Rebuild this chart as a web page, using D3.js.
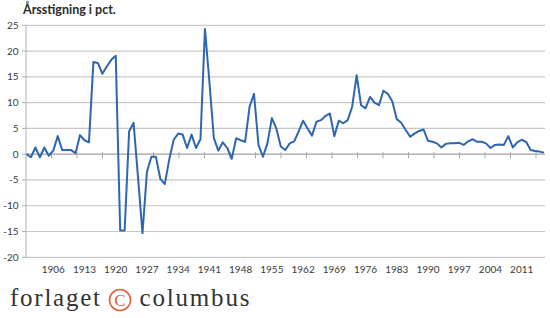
<!DOCTYPE html>
<html>
<head>
<meta charset="utf-8">
<script src="https://cdn.jsdelivr.net/npm/d3@7"></script>
<style>
  html, body { margin: 0; padding: 0; background: #fff; }
  svg { display: block; }
</style>
</head>
<body>
<svg id="chart" width="550" height="318"></svg>
<script>
// ---- data ----
const startYear = 1900;
const values = [
  0.0, -0.6, 1.3, -0.6, 1.3, -0.3, 0.7, 3.5, 0.8, 0.8,      // 1900-1909
  0.8, 0.2, 3.7, 2.7, 2.3, 17.9, 17.7, 15.6, 17.0, 18.3,    // 1910-1919
  19.1, -14.8, -14.8, 4.4, 6.1, -4.5, -15.3, -3.4, -0.5, -0.5, // 1920-1929
  -4.8, -5.8, -1.0, 2.8, 4.0, 3.8, 1.2, 3.8, 1.2, 2.9,      // 1930-1939
  24.3, 14.0, 3.1, 0.7, 2.3, 1.2, -0.9, 3.1, 2.7, 2.4,      // 1940-1949
  9.2, 11.7, 1.8, -0.5, 2.1, 7.0, 5.0, 1.5, 0.8, 2.1,       // 1950-1959
  2.5, 4.4, 6.5, 5.0, 3.6, 6.3, 6.6, 7.4, 7.9, 3.5,         // 1960-1969
  6.5, 6.0, 6.6, 9.2, 15.3, 9.5, 8.9, 11.1, 10.0, 9.5,      // 1970-1979
  12.3, 11.7, 10.2, 6.8, 6.1, 4.7, 3.4, 4.0, 4.5, 4.8,      // 1980-1989
  2.6, 2.4, 2.1, 1.3, 2.0, 2.1, 2.1, 2.2, 1.8, 2.5,         // 1990-1999
  2.9, 2.4, 2.4, 2.1, 1.2, 1.8, 1.9, 1.8, 3.5, 1.3,         // 2000-2009
  2.3, 2.8, 2.4, 0.8, 0.6, 0.5, 0.3                         // 2010-2016
];
const years = values.map((v, i) => startYear + i);
const yTicks = [-20, -15, -10, -5, 0, 5, 10, 15, 20, 25];
const xLabels = [1906, 1913, 1920, 1927, 1934, 1941, 1948, 1955, 1962, 1969, 1976, 1983, 1990, 1997, 2004, 2011];
const tickMarkCount = 20;
const tickMarkFirst = 1905.6;
const tickMarkStep = 5.716;
const title = "Årsstigning i pct.";
const brandLeft = "forlaget";
const brandRight = "columbus";

// ---- layout ----
const svg = d3.select("#chart");
const left = 26, right = 545;
const x = d3.scaleLinear().domain([years[0], years[years.length - 1]]).range([26.5, 544]);
const y = d3.scaleLinear().domain([-20, 25]).range([257.3, 25.3]);
const textColor = "#3a3a3a";

// grid lines
svg.append("g").selectAll("line")
  .data(yTicks.filter(t => t !== 0))
  .join("line")
  .attr("x1", left).attr("x2", right)
  .attr("y1", d => y(d)).attr("y2", d => y(d))
  .attr("stroke", "#c8c8c8").attr("stroke-width", 1.2);

// y axis line
svg.append("line")
  .attr("x1", left).attr("x2", left)
  .attr("y1", y(25)).attr("y2", y(-20))
  .attr("stroke", "#b0b0b0").attr("stroke-width", 1);

// y tick marks
svg.append("g").selectAll("line")
  .data(yTicks)
  .join("line")
  .attr("x1", left - 4).attr("x2", left)
  .attr("y1", d => y(d)).attr("y2", d => y(d))
  .attr("stroke", "#b0b0b0").attr("stroke-width", 1);

// y labels
svg.append("g").selectAll("text")
  .data(yTicks)
  .join("text")
  .attr("x", 18.5)
  .attr("y", d => y(d))
  .attr("dy", "0.35em")
  .attr("text-anchor", "end")
  .attr("font-family", "Lato, 'Open Sans', sans-serif")
  .attr("font-size", 10)
  .attr("fill", textColor)
  .text(d => d);

// zero axis
svg.append("line")
  .attr("x1", left).attr("x2", right)
  .attr("y1", y(0)).attr("y2", y(0))
  .attr("stroke", "#a0a0a0").attr("stroke-width", 1.3);

// x tick marks
const tickYears = d3.range(tickMarkCount).map(k => tickMarkFirst + tickMarkStep * k);
svg.append("g").selectAll("line")
  .data(tickYears)
  .join("line")
  .attr("x1", d => x(d)).attr("x2", d => x(d))
  .attr("y1", y(0) - 2).attr("y2", y(0) + 4)
  .attr("stroke", "#a8a8a8").attr("stroke-width", 1);

// x labels
svg.append("g").selectAll("text")
  .data(xLabels)
  .join("text")
  .attr("x", d => x(d))
  .attr("y", 273)
  .attr("text-anchor", "middle")
  .attr("font-family", "Lato, 'Open Sans', sans-serif")
  .attr("font-size", 10)
  .attr("fill", textColor)
  .text(d => d);

// the line
const line = d3.line()
  .x((d, i) => x(years[i]))
  .y(d => y(d));
svg.append("path")
  .datum(values)
  .attr("d", line)
  .attr("fill", "none")
  .attr("stroke", "#2f66b0")
  .attr("stroke-width", 2)
  .attr("stroke-linejoin", "round");

// title
svg.append("text")
  .attr("x", 23).attr("y", 13.5)
  .attr("font-family", "Lato, 'Open Sans', sans-serif")
  .attr("font-weight", "bold")
  .attr("font-size", 12.5)
  .attr("fill", "#2a2a2a")
  .text(title);

// brand footer
const brand = svg.append("g");
brand.append("text")
  .attr("x", 10).attr("y", 305.5)
  .attr("font-family", "'Liberation Serif', 'DejaVu Serif', serif")
  .attr("font-size", 25)
  .attr("fill", "#333")
  .attr("textLength", 90).attr("lengthAdjust", "spacing")
  .text(brandLeft);
brand.append("circle")
  .attr("cx", 120).attr("cy", 300).attr("r", 10.5)
  .attr("fill", "none").attr("stroke", "#e2603d").attr("stroke-width", 1.6);
brand.append("text")
  .attr("x", 120).attr("y", 305.8)
  .attr("text-anchor", "middle")
  .attr("font-family", "'Liberation Serif', 'DejaVu Serif', serif")
  .attr("font-size", 17)
  .attr("fill", "#e2603d")
  .text("C");
brand.append("text")
  .attr("x", 139.5).attr("y", 305.5)
  .attr("font-family", "'Liberation Serif', 'DejaVu Serif', serif")
  .attr("font-size", 25)
  .attr("fill", "#333")
  .attr("textLength", 110).attr("lengthAdjust", "spacing")
  .text(brandRight);
</script>
</body>
</html>
